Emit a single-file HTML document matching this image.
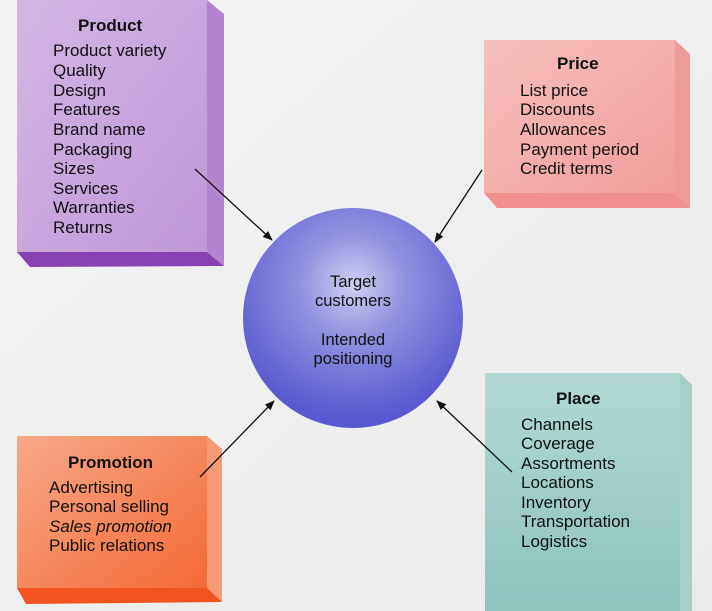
<!DOCTYPE html>
<html><head><meta charset="utf-8"><style>
html,body{margin:0;padding:0;background:#f1f1f1;}
svg{display:block;}
text{font-family:"Liberation Sans",Arial,sans-serif;fill:#111;}
</style></head><body>
<svg width="712" height="611" viewBox="0 0 712 611" xmlns="http://www.w3.org/2000/svg">
<defs>
<linearGradient id="bg" x1="0" y1="0" x2="1" y2="1"><stop offset="0" stop-color="#f3f3f3"/><stop offset="1" stop-color="#ebebeb"/></linearGradient>
<linearGradient id="pr" x1="0" y1="0" x2="1" y2="1"><stop offset="0" stop-color="#d3b6e4"/><stop offset="1" stop-color="#be98d6"/></linearGradient>
<linearGradient id="pc" x1="0" y1="0" x2="1" y2="1"><stop offset="0" stop-color="#f6c0bd"/><stop offset="1" stop-color="#f29c9c"/></linearGradient>
<linearGradient id="pl" x1="0" y1="0" x2="0" y2="1"><stop offset="0" stop-color="#b3d8d4"/><stop offset="1" stop-color="#8ec3be"/></linearGradient>
<linearGradient id="pm" x1="0" y1="0" x2="1" y2="1"><stop offset="0" stop-color="#f8a888"/><stop offset="1" stop-color="#f36a35"/></linearGradient>
<radialGradient id="ci" cx="0.5" cy="0.35" r="0.62"><stop offset="0" stop-color="#cfcff2"/><stop offset="0.4" stop-color="#8f8fe0"/><stop offset="1" stop-color="#5858d0"/></radialGradient>
<marker id="ah" markerWidth="10" markerHeight="8" refX="9" refY="4" orient="auto" markerUnits="userSpaceOnUse"><path d="M0,0 L10,4 L0,8 Z" fill="#111"/></marker>
</defs>
<rect width="712" height="611" fill="url(#bg)"/>

<polygon points="207,0 224,14 224,266 207,252" fill="#b485cf"/>
<polygon points="17,252 207,252 224,266 30,267" fill="#8642b2"/>
<rect x="17" y="0" width="190" height="252" fill="url(#pr)"/>
<text x="78" y="31" font-size="17" font-weight="bold">Product</text>
<g font-size="17">
<text x="53" y="56">Product variety</text><text x="53" y="76">Quality</text><text x="53" y="96">Design</text><text x="53" y="115">Features</text><text x="53" y="135">Brand name</text><text x="53" y="155">Packaging</text><text x="53" y="174">Sizes</text><text x="53" y="194">Services</text><text x="53" y="213">Warranties</text><text x="53" y="233">Returns</text>
</g>

<polygon points="675,40 690,54 690,208 675,193" fill="#ef9a9a"/>
<polygon points="484,193 675,193 690,208 497,208" fill="#f18e8e"/>
<rect x="484" y="40" width="191" height="153" fill="url(#pc)"/>
<text x="557" y="69" font-size="17" font-weight="bold">Price</text>
<g font-size="17">
<text x="520" y="96">List price</text><text x="520" y="115">Discounts</text><text x="520" y="135">Allowances</text><text x="520" y="155">Payment period</text><text x="520" y="174">Credit terms</text>
</g>

<polygon points="680,373 692,385 692,611 680,611" fill="#a6cfca"/>
<rect x="485" y="373" width="195" height="238" fill="url(#pl)"/>
<text x="556" y="404" font-size="17" font-weight="bold">Place</text>
<g font-size="17">
<text x="521" y="430">Channels</text><text x="521" y="449">Coverage</text><text x="521" y="469">Assortments</text><text x="521" y="488">Locations</text><text x="521" y="508">Inventory</text><text x="521" y="527">Transportation</text><text x="521" y="547">Logistics</text>
</g>

<polygon points="207,436 222,449 222,602 207,588" fill="#f59a78"/>
<polygon points="17,588 207,588 222,602 26,604" fill="#f0541f"/>
<rect x="17" y="436" width="190" height="152" fill="url(#pm)"/>
<text x="68" y="468" font-size="17" font-weight="bold">Promotion</text>
<g font-size="17">
<text x="49" y="493">Advertising</text><text x="49" y="512">Personal selling</text><text x="49" y="532" font-style="italic">Sales promotion</text><text x="49" y="551">Public relations</text>
</g>

<circle cx="353" cy="318" r="110" fill="url(#ci)"/>
<g font-size="16.5" text-anchor="middle">
<text x="353" y="287">Target</text><text x="353" y="306">customers</text><text x="353" y="345">Intended</text><text x="353" y="364">positioning</text>
</g>

<g stroke="#111" stroke-width="1.3" fill="none">
<line x1="195" y1="169" x2="272" y2="240" marker-end="url(#ah)"/>
<line x1="482" y1="170" x2="435" y2="242" marker-end="url(#ah)"/>
<line x1="200" y1="477" x2="274" y2="401" marker-end="url(#ah)"/>
<line x1="512" y1="472" x2="437" y2="401" marker-end="url(#ah)"/>
</g>
</svg>
</body></html>
